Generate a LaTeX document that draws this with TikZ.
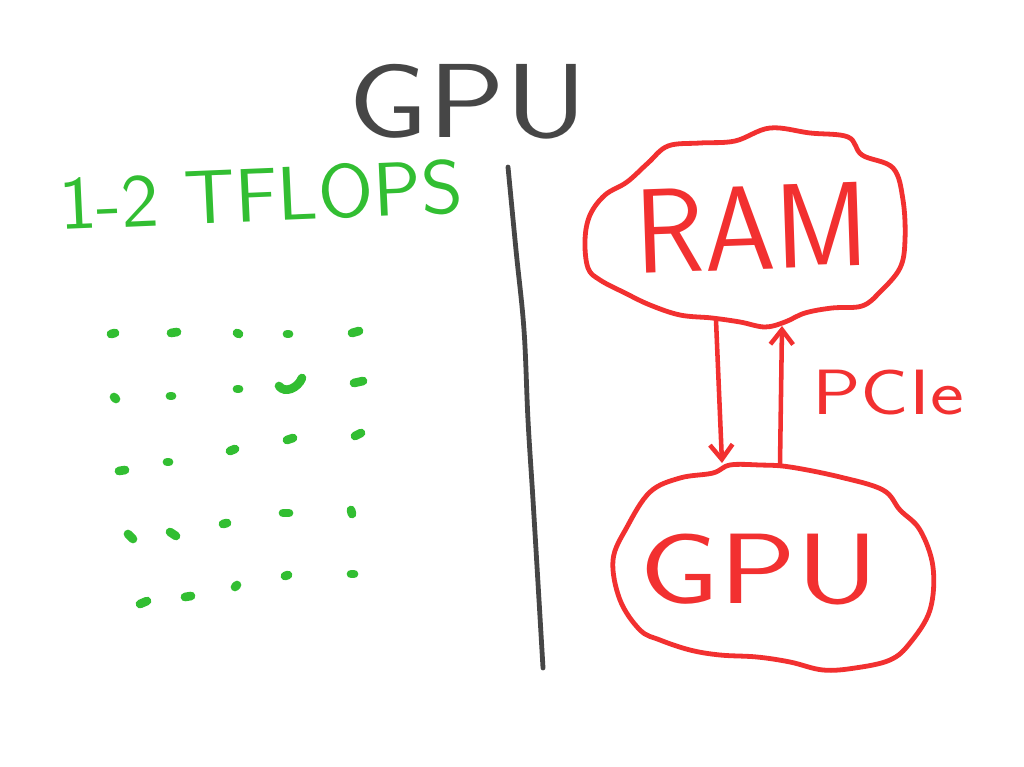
\documentclass[tikz,border=0pt]{standalone}
\usepackage{fontspec}
\usetikzlibrary{arrows.meta}
\definecolor{crayred}{RGB}{242,48,48}
\definecolor{craygreen}{RGB}{50,190,50}
\definecolor{craygray}{RGB}{70,70,70}
\begin{document}
\begin{tikzpicture}[x=0.75pt,y=-0.75pt,
  handtext/.style={inner sep=0pt},
  cloudline/.style={draw=crayred, line width=3.6pt, line join=round},
  redarrow/.style={draw=crayred, line width=3.4pt, line cap=round,
     -{Straight Barb[length=11pt,width=17pt,line width=3.4pt]}},
  dotmark/.style={draw=craygreen, line width=6.5pt, line cap=round}]
\useasboundingbox[fill=white] (0,0) rectangle (1024,767);

% titles
\node[handtext, text=craygray, font=\sffamily\fontsize{79}{79}\selectfont, xscale=1.21] (title) at (468,102) {GPU};
\node[handtext, text=craygreen, font=\sffamily\fontsize{57}{57}\selectfont, xscale=1.05, rotate=2.5] (tflops) at (261,195) {1-2 TFLOPS};

% divider
\draw[draw=craygray, line width=3.6pt, line cap=round]
  plot[smooth, tension=0.6] coordinates {(508,167) (516,250) (524,330) (528,420) (533,500) (539,600) (543,668)};

% RAM cloud
\draw[cloudline] plot[smooth cycle, tension=0.6] coordinates {
 (770,128) (810,133) (848,137) (862,155) (893,168) (903,200) (905,240) (900,268)
 (880,292) (862,306) (832,308) (805,313) (785,322) (765,327) (740,322) (712,318)
 (680,315) (650,305) (625,293) (600,280) (588,268) (585,240) (590,215) (605,195)
 (627,182) (648,163) (668,146) (700,143) (735,141)};
\node[handtext, text=crayred, font=\sffamily\fontsize{90}{90}\selectfont, xscale=0.95, rotate=2] (ram) at (752,228) {RAM};

% GPU cloud
\draw[cloudline] plot[smooth cycle, tension=0.6] coordinates {
 (730,465) (760,465) (790,467) (840,477) (883,490) (900,510) (920,530) (933,567)
 (930,610) (910,643) (890,660) (855,668) (823,670) (790,662) (757,657) (720,655)
 (690,650) (660,640) (640,630) (620,600) (613,560) (627,527) (650,492) (680,478)
 (713,473)};
\node[handtext, text=crayred, font=\sffamily\fontsize{75}{75}\selectfont, xscale=1.28] (gpu) at (759,570) {GPU};

% connectors
\coordinate (ramout) at (716,320);
\coordinate (gpuin)  at (722,463);
\coordinate (gpuout) at (780,464);
\coordinate (ramin)  at (782,326);
\draw[redarrow] (ramout) -- (gpuin);
\draw[redarrow] (gpuout) -- (ramin);
\node[handtext, text=crayred, font=\sffamily\fontsize{48}{48}\selectfont, xscale=1.26] (pcie) at (888,393) {PCIe};

% dot grid
\foreach \a/\b/\c/\d in {
 111/334/115/333, 171/333/177/332, 237/333/239/334, 287/334/289/334, 352/333/359/331,
 114/397/116/399, 170/396/172/396, 237/389/239/389, 354/383/363/381,
 119/471/125/470, 167/462/169/462, 230/451/235/449, 287/440/293/438, 355/436/361/433,
 128/534/133/539, 170/532/176/536, 223/524/227/523, 283/513/289/513, 351/510/352/514,
 140/604/147/601, 185/597/191/596, 235/587/237/585, 285/576/288/575, 351/574/354/574}
  \draw[dotmark] (\a,\b) -- (\c,\d);
\draw[dotmark] (279,386) .. controls (285,394) and (298,388) .. (302,378);
\end{tikzpicture}
\end{document}
